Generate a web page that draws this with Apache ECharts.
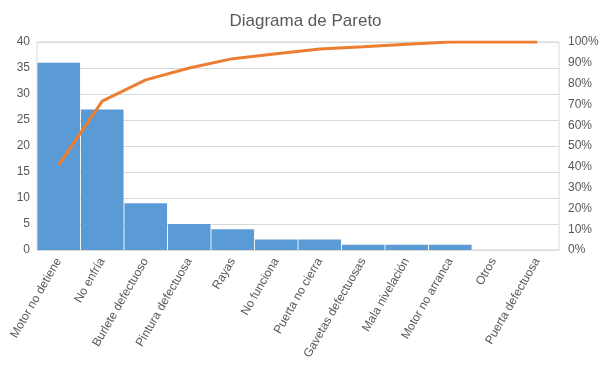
<!DOCTYPE html>
<html>
<head>
<meta charset="utf-8">
<script src="https://cdn.jsdelivr.net/npm/echarts@6/dist/echarts.min.js"></script>
<style>html,body{margin:0;padding:0;background:#fff}#c{width:611px;height:370px}</style>
</head>
<body>
<div id="c"></div>
<script>
const categories = ['Motor no detiene','No enfría','Burlete defectuoso','Pintura defectuosa','Rayas','No funciona','Puerta no cierra','Gavetas defectuosas','Mala nivelación','Motor no arranca','Otros','Puerta defectuosa'];
const frequency = [36, 27, 9, 5, 4, 2, 2, 1, 1, 1, 0, 0];
const cumulativePct = [0.409, 0.716, 0.818, 0.875, 0.920, 0.943, 0.966, 0.977, 0.989, 1.0, 1.0, 1.0];
const leftTicks = { min: 0, max: 40, interval: 5 };
const rightTicks = { min: 0, max: 1, interval: 0.1 };

const font = 'Liberation Sans, Arial, sans-serif';
const chart = echarts.init(document.getElementById('c'));
chart.setOption({
  animation: false,
  title: { text: 'Diagrama de Pareto', left: 'center', top: 8,
    textStyle: { color: '#595959', fontSize: 17, fontWeight: 'normal', fontFamily: font } },
  grid: { left: 37, right: 52, top: 42, bottom: 120, show: true, borderColor: '#d9d9d9', borderWidth: 1 },
  xAxis: {
    type: 'category', data: categories,
    axisLine: { lineStyle: { color: '#d9d9d9' } },
    axisTick: { show: false },
    axisLabel: { rotate: 60, interval: 0, color: '#595959', fontSize: 12, fontFamily: font, margin: 9 }
  },
  yAxis: [
    { type: 'value', min: leftTicks.min, max: leftTicks.max, interval: leftTicks.interval,
      axisLine: { show: false }, axisTick: { show: false },
      splitLine: { lineStyle: { color: '#d9d9d9' } },
      axisLabel: { color: '#595959', fontSize: 12, fontFamily: font, margin: 7 } },
    { type: 'value', min: rightTicks.min, max: rightTicks.max, interval: rightTicks.interval,
      axisLine: { show: false }, axisTick: { show: false }, splitLine: { show: false },
      axisLabel: { color: '#595959', fontSize: 12, fontFamily: font, margin: 9,
        formatter: v => Math.round(v * 100) + '%' } }
  ],
  series: [
    { type: 'bar', data: frequency, barCategoryGap: '2%', itemStyle: { color: '#5B9BD5' } },
    { type: 'line', yAxisIndex: 1, data: cumulativePct, symbol: 'none',
      lineStyle: { color: '#ED7D31', width: 3 } }
  ]
});
</script>
</body>
</html>
